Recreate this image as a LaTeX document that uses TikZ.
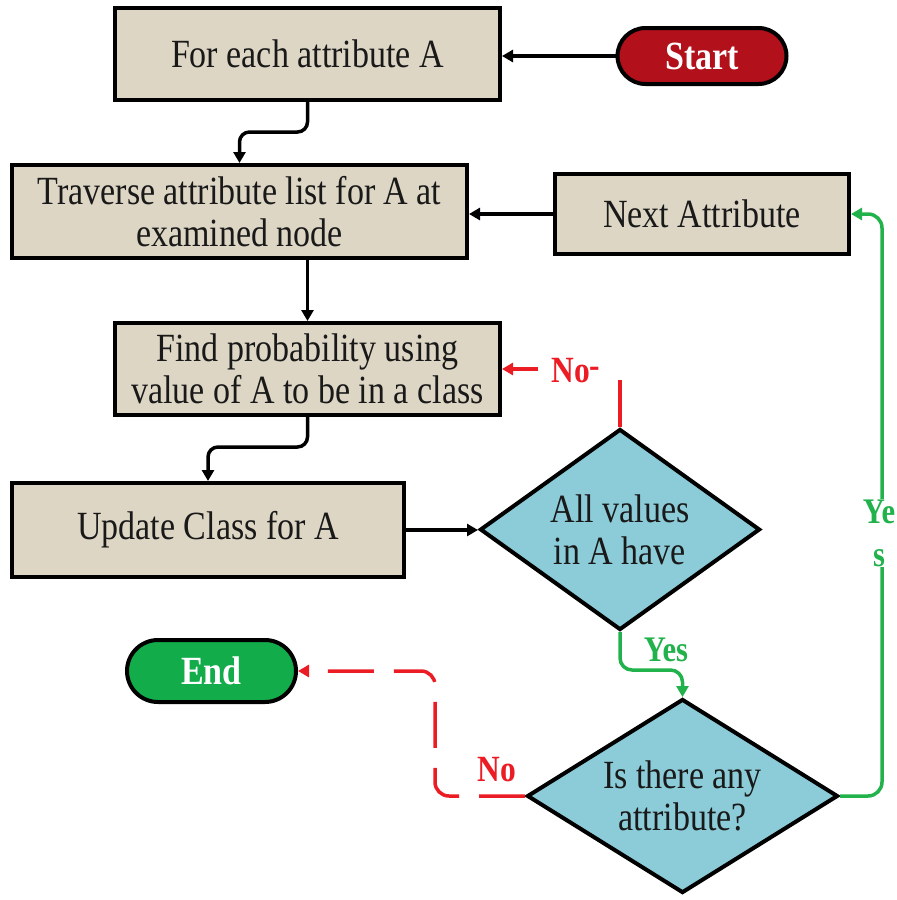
\documentclass[tikz,border=0pt]{standalone}
\usepackage{fontspec}
\setmainfont{Liberation Serif}[FakeStretch=0.85]
\usetikzlibrary{shapes.geometric,arrows.meta}
\definecolor{boxfill}{RGB}{221,214,196}
\definecolor{diafill}{RGB}{140,203,216}
\definecolor{startred}{RGB}{178,16,26}
\definecolor{endgreen}{RGB}{18,172,74}
\definecolor{lgreen}{RGB}{34,178,76}
\definecolor{lred}{RGB}{236,28,36}
\definecolor{txt}{RGB}{25,25,25}
\begin{document}
\begin{tikzpicture}[x=1pt,y=-1pt,
  procbox/.style={draw=black,line width=4pt,fill=boxfill,align=center,inner sep=0pt,text=txt,font=\fontsize{40}{42}\selectfont},
  decision/.style={diamond,draw=black,line width=4pt,fill=diafill,align=center,inner sep=0pt,text=txt,font=\fontsize{40}{42}\selectfont},
  terminal/.style={draw=black,line width=4pt,rounded corners=28pt,text=white,inner sep=0pt,font=\bfseries\fontsize{40}{42}\selectfont},
  conn/.style={line width=3.5pt,draw=black,-{Triangle[length=11pt,width=12pt]}},
  greenline/.style={line width=3.5pt,draw=lgreen,-{Triangle[length=11pt,width=12pt]}},
  redline/.style={line width=3.5pt,draw=lred},
  redarrow/.style={line width=3.5pt,draw=lred,-{Triangle[length=11pt,width=12pt]}},
  redlabel/.style={text=lred,font=\bfseries\fontsize{37}{40}\selectfont,inner sep=1pt},
  greenlabel/.style={text=lgreen,font=\bfseries\fontsize{36}{43}\selectfont,inner sep=1pt,align=center}
]
\useasboundingbox (0,0) rectangle (897,900);

% nodes
\node[procbox, minimum width=385pt, minimum height=92pt] (b1) at (307.5,54) {For each attribute A};
\node[terminal, fill=startred, minimum width=169pt, minimum height=56pt] (start) at (702,56) {Start};
\node[procbox, minimum width=455pt, minimum height=93pt] (b2) at (239.5,211.5) {Traverse attribute list for A at\\examined node};
\node[procbox, minimum width=294pt, minimum height=80pt] (next) at (702,214) {Next Attribute};
\node[procbox, minimum width=385pt, minimum height=92pt] (b3) at (307.5,369) {Find probability using\\value of A to be in a class};
\node[procbox, minimum width=392pt, minimum height=94pt] (b4) at (208,530) {Update Class for A};
\node[decision, minimum width=280pt, minimum height=201pt, aspect=1.4] (d1) at (620,529.5) {All values\\in A have};
\node[decision, minimum width=311pt, minimum height=194pt, aspect=1.6] (d2) at (682.5,796) {Is there any\\attribute?};
\node[terminal, fill=endgreen, rounded corners=31pt, minimum width=169pt, minimum height=62pt] (end) at (211.5,671) {End};

% black connectors
\draw[conn] (start.west) -- (start.west -| b1.east);
\draw[conn, rounded corners=10pt] (b1.south) -- ++(0,30) -| (b2.north);
\draw[conn] (b3.north |- b2.south) -- (b3.north);
\draw[conn, rounded corners=10pt] (b3.south) -- ++(0,30) -| (b4.north);
\draw[conn] (next.west) -- (next.west -| b2.east);
\draw[conn] (b4.east) -- (b4.east -| d1.west);

% red "No" to b3
\coordinate (nocorner) at (d1.north |- b3.east);
\draw[redline] (d1.north) -- ([yshift=-11pt]nocorner);
\draw[redarrow] ([xshift=-82pt]nocorner) -- (b3.east);
\node[redlabel] (nolab1) at (576,371) {No\raisebox{5pt}{-}};

% green Yes to d2
\draw[greenline, rounded corners=12pt] (d1.south) -- ++(0,38) -| (d2.north);
\node[greenlabel] (yeslab1) at (666,650) {Yes};

% green Yes to Next Attribute
\draw[greenline, rounded corners=14pt] (d2.east) -- ([xshift=42pt]d2.east) |- (next.east);
\node[greenlabel, fill=white] (yeslab2) at (879,533) {Ye\\s};

% red dashed No to End
\draw[redarrow, dash pattern=on 46pt off 20pt, rounded corners=14pt] (d2.west) -- ++(-90,0) |- (end.east);
\node[redlabel] (nolab2) at (497,770) {No};
\end{tikzpicture}
\end{document}
